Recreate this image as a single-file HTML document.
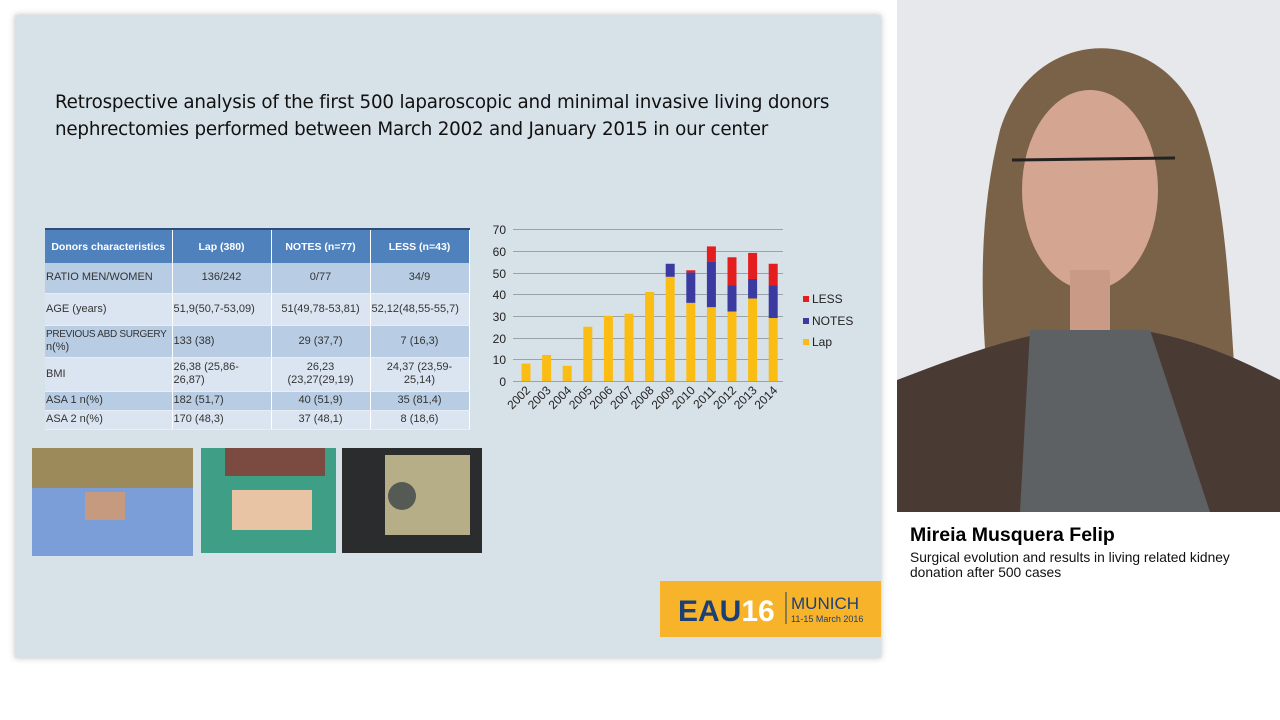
<!DOCTYPE html>
<html><head><meta charset="utf-8"><style>
*{margin:0;padding:0;box-sizing:border-box}
body{width:1280px;height:720px;background:#fff;position:relative;overflow:hidden;font-family:"Liberation Sans",sans-serif}
.slide{position:absolute;left:15px;top:15px;width:866px;height:643px;background:#d7e1e8;box-shadow:0 0 6px rgba(0,0,0,.25)}
.title{position:absolute;left:55px;top:89px;font-size:18.3px;line-height:27px;color:#111;font-family:"DejaVu Sans","Liberation Sans",sans-serif;letter-spacing:-0.2px}
table{position:absolute;left:45px;top:228px;border-collapse:collapse;font-family:"Liberation Sans",sans-serif;font-size:11px;color:#333;table-layout:fixed;width:424px}
td{border-right:1px solid #fff;border-bottom:1px solid #e8eef5;padding:0 1px;vertical-align:middle;line-height:13px;white-space:nowrap;overflow:visible}
th{background:#4f81bd;color:#fff;font-size:10.5px;font-weight:bold;border-right:1px solid #fff;border-top:2px solid #2c4d75;white-space:nowrap}
.a td{background:#b8cde4}.b td{background:#dbe5f1}
.c{text-align:center}
</style></head><body>
<div class="slide"></div>
<div class="title">Retrospective analysis of the first 500 laparoscopic and minimal invasive living donors<br>nephrectomies performed between March 2002 and January 2015 in our center</div>
<table>
<colgroup><col style="width:127px"><col style="width:99px"><col style="width:99px"><col style="width:99px"></colgroup>
<tr style="height:34px"><th>Donors characteristics</th><th>Lap (380)</th><th>NOTES (n=77)</th><th>LESS (n=43)</th></tr>
<tr class="a" style="height:30px"><td>RATIO MEN/WOMEN</td><td class="c">136/242</td><td class="c">0/77</td><td class="c">34/9</td></tr>
<tr class="b" style="height:32px"><td>AGE (years)</td><td>51,9(50,7-53,09)</td><td class="c">51(49,78-53,81)</td><td>52,12(48,55-55,7)</td></tr>
<tr class="a" style="height:32px"><td><span style="font-size:10px;letter-spacing:-0.3px">PREVIOUS ABD SURGERY</span><br>n(%)</td><td>133 (38)</td><td class="c">29 (37,7)</td><td class="c">7 (16,3)</td></tr>
<tr class="b" style="height:34px"><td>BMI</td><td>26,38 (25,86-<br>26,87)</td><td class="c">26,23<br>(23,27(29,19)</td><td class="c">24,37 (23,59-<br>25,14)</td></tr>
<tr class="a" style="height:19px"><td>ASA 1 n(%)</td><td>182 (51,7)</td><td class="c">40 (51,9)</td><td class="c">35 (81,4)</td></tr>
<tr class="b" style="height:19px"><td>ASA 2 n(%)</td><td>170 (48,3)</td><td class="c">37 (48,1)</td><td class="c">8 (18,6)</td></tr>
</table>
<svg style="position:absolute;left:0;top:0" width="1280" height="720" font-family="Liberation Sans, sans-serif">
<g stroke="#9aa3aa" stroke-width="1">
<line x1="513" y1="229.5" x2="783" y2="229.5"/><line x1="513" y1="251.5" x2="783" y2="251.5"/><line x1="513" y1="273.5" x2="783" y2="273.5"/><line x1="513" y1="294.5" x2="783" y2="294.5"/><line x1="513" y1="316.5" x2="783" y2="316.5"/><line x1="513" y1="338.5" x2="783" y2="338.5"/><line x1="513" y1="359.5" x2="783" y2="359.5"/><line x1="513" y1="381.5" x2="783" y2="381.5"/>
</g>
<g font-size="12" fill="#222" text-anchor="end">
<text x="506" y="234">70</text><text x="506" y="256">60</text><text x="506" y="278">50</text><text x="506" y="299">40</text><text x="506" y="321">30</text><text x="506" y="343">20</text><text x="506" y="364">10</text><text x="506" y="386">0</text>
</g>
<g id="bars"></g>
<g font-size="12" fill="#222" text-anchor="end" id="xl"></g>
<rect x="803" y="296" width="6" height="6" fill="#e41e1e"/><text x="812" y="303" font-size="12" fill="#222">LESS</text>
<rect x="803" y="318" width="6" height="6" fill="#3a3aa0"/><text x="812" y="325" font-size="12" fill="#222">NOTES</text>
<rect x="803" y="339" width="6" height="6" fill="#fbbd13"/><text x="812" y="346" font-size="12" fill="#222">Lap</text>
<rect x="32" y="448" width="161" height="108" fill="#7c9ed8"/><rect x="32" y="448" width="161" height="40" fill="#9c8a5a"/><rect x="85" y="492" width="40" height="28" fill="#c59a7e"/>
<rect x="201" y="448" width="135" height="105" fill="#3f9e86"/><rect x="225" y="448" width="100" height="28" fill="#7b4a40"/><rect x="232" y="490" width="80" height="40" fill="#e9c4a4"/>
<rect x="342" y="448" width="140" height="105" fill="#2a2c2e"/><rect x="385" y="455" width="85" height="80" fill="#b5ae86"/><circle cx="402" cy="496" r="14" fill="#555a55"/>
<rect x="660" y="581" width="221" height="56" fill="#f7b42b"/>
<text x="678" y="621" font-size="30" font-weight="bold" fill="#1e3f73">EAU<tspan fill="#fff">16</tspan></text>
<line x1="786" y1="592" x2="786" y2="624" stroke="#1e3f73" stroke-width="1"/>
<text x="791" y="609" font-size="17" fill="#1e3f73">MUNICH</text>
<text x="791" y="622" font-size="9" fill="#1e3f73">11-15 March 2016</text>
<rect x="897" y="0" width="383" height="512" fill="#e7e8eb"/>
<path d="M1000 510 C 985 360 970 250 1000 130 C 1030 30 1150 20 1195 110 C 1240 220 1225 380 1250 510 Z" fill="#7a6248"/>
<path d="M897 512 L897 380 C 950 360 1000 340 1060 330 L1140 330 C 1200 340 1240 360 1280 380 L1280 512 Z" fill="#4a3a34"/>
<path d="M1020 512 L1030 330 L1150 330 L1210 512 Z" fill="#5e6163"/>
<ellipse cx="1090" cy="190" rx="68" ry="100" fill="#d4a590"/>
<rect x="1070" y="270" width="40" height="60" fill="#c99a86"/>
<line x1="1012" y1="160" x2="1175" y2="158" stroke="#222" stroke-width="3"/>
<text x="910" y="541" font-size="19.5" font-weight="bold" fill="#000">Mireia Musquera Felip</text>
<text x="910" y="562" font-size="13.8" fill="#111">Surgical evolution and results in living related kidney</text>
<text x="910" y="577" font-size="13.8" fill="#111">donation after 500 cases</text>
</svg>
<script>
var lap=[8,12,7,25,30,31,41,48,36,34,32,38,29],no=[0,0,0,0,0,0,0,6,14,21,12,9,15],le=[0,0,0,0,0,0,0,0,1,7,13,12,10];
var s='',l='',k=2.171;
for(var i=0;i<13;i++){var cx=526+i*20.6,x=cx-4.5,y=381;
function r(v,c){if(!v)return;var h=v*k;y-=h;s+='<rect x="'+x+'" y="'+y+'" width="9" height="'+h+'" fill="'+c+'"/>';}
r(lap[i],'#fbbd13');r(no[i],'#3a3aa0');r(le[i],'#e41e1e');
l+='<text transform="translate('+(cx+5)+',391) rotate(-45)">'+(2002+i)+'</text>';}
document.getElementById('bars').innerHTML=s;document.getElementById('xl').innerHTML=l;
</script>
</body></html>
